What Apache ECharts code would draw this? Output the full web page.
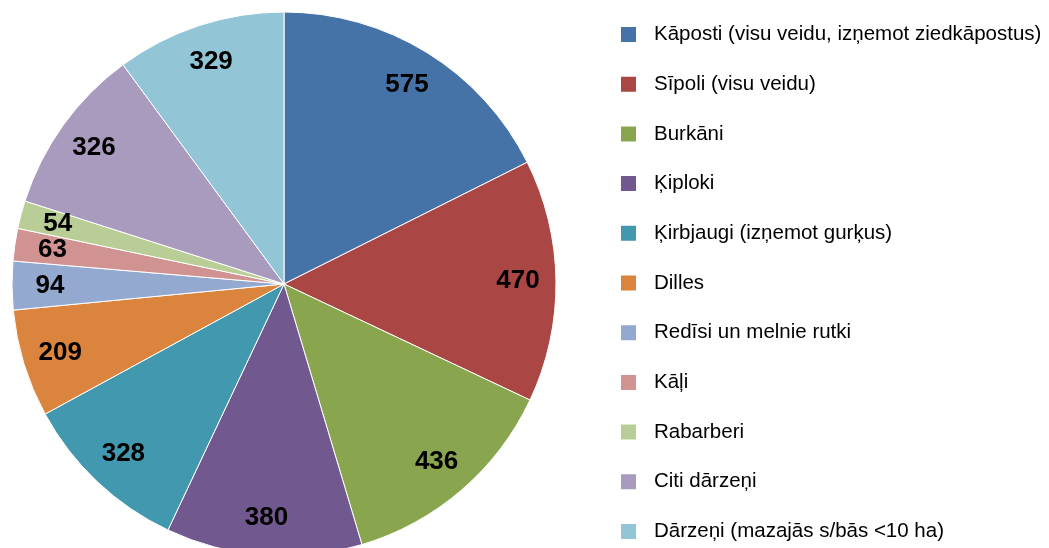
<!DOCTYPE html>
<html><head><meta charset="utf-8">
<script src="https://cdn.jsdelivr.net/npm/echarts@6/dist/echarts.min.js"></script>
<style>html,body{margin:0;padding:0;background:#fff}#c{width:1049px;height:548px}</style>
</head><body><div id="c"></div>
<script>
const categories = ["Kāposti (visu veidu, izņemot ziedkāpostus)","Sīpoli (visu veidu)","Burkāni","Ķiploki","Ķirbjaugi (izņemot gurķus)","Dilles","Redīsi un melnie rutki","Kāļi","Rabarberi","Citi dārzeņi","Dārzeņi (mazajās s/bās <10 ha)"];
const values = [575,470,436,380,328,209,94,63,54,326,329];
const colors = ["#4572A7","#AA4643","#89A54E","#71588F","#4198AF","#DB843D","#93A9CF","#D19392","#B9CD96","#A99BBD","#92C5D5"];

const data = categories.map((n,i)=>({name:n,value:values[i],itemStyle:{color:colors[i]}}));
const chart = echarts.init(document.getElementById('c'));
chart.setOption({
  animation:false,
  legend:{
    orient:'vertical', left:619, top:24, padding:0,
    itemWidth:17, itemHeight:17, itemGap:28.7,
    icon:'rect',
    textStyle:{fontFamily:'"Liberation Sans Narrow","Liberation Sans",sans-serif',fontSize:20.5,color:'#000',lineHeight:20,height:20,padding:[0,0,0,12]},
    data:categories
  },
  series:[
    {type:'pie',center:[284,284],radius:272,startAngle:90,clockwise:true,
     itemStyle:{borderColor:'#fff',borderWidth:1},
     label:{show:false},labelLine:{show:false},silent:true,
     data:data},
    {type:'pie',center:[284,284],radius:[190,272],startAngle:90,clockwise:true,
     silent:true,avoidLabelOverlap:false,
     labelLayout:{hideOverlap:false},
     itemStyle:{color:'rgba(0,0,0,0)',borderWidth:0},
     label:{show:true,position:'inside',formatter:'{c}',fontFamily:'"Liberation Sans",Arial,sans-serif',fontWeight:'bold',fontSize:26,color:'#000'},
     labelLine:{show:false},
     data:categories.map((n,i)=>({name:n,value:values[i]}))}
  ]
});
</script></body></html>
